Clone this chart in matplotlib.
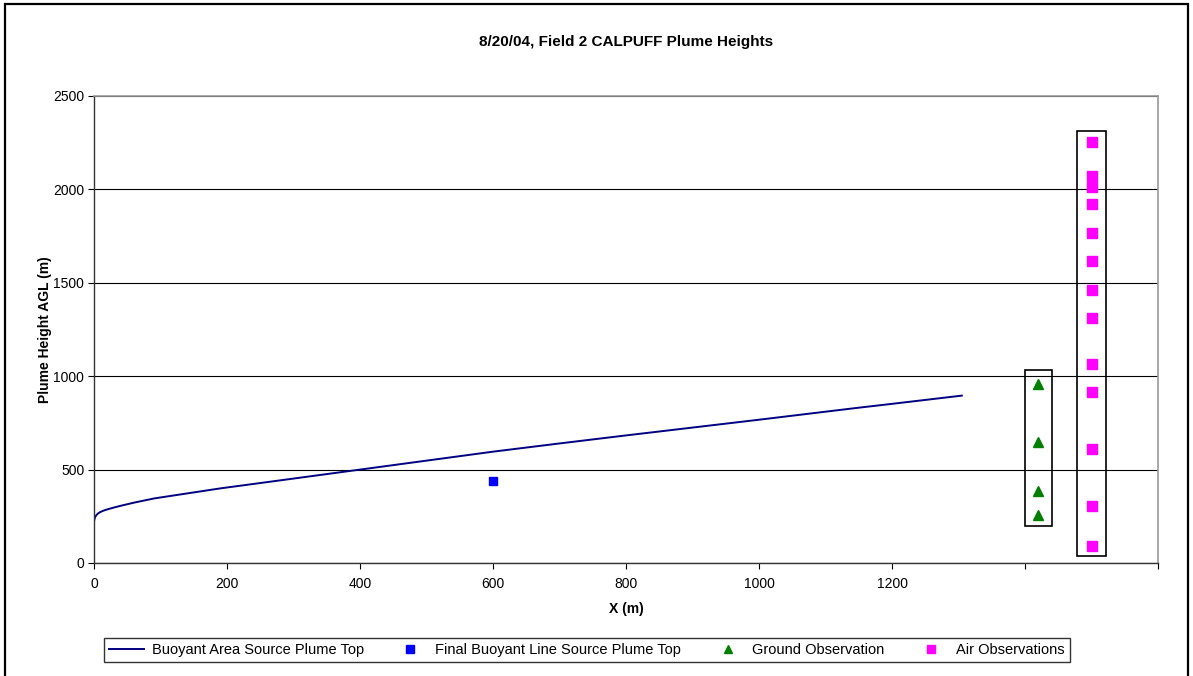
import matplotlib
matplotlib.use("Agg")
import matplotlib.pyplot as plt
from matplotlib.patches import Rectangle

plt.rcParams['font.family'] = ['Liberation Sans', 'DejaVu Sans']

# Buoyant area source plume top (CALPUFF)
area_x = [0, 0.5, 1, 2, 4, 6, 9, 14, 21, 30, 41, 60, 91, 141, 191, 231, 300,
          400, 500, 600, 700, 800, 900, 1000, 1100, 1149, 1200, 1305]
area_y = [221, 232, 239, 248, 258, 265, 272, 280, 288, 297, 307, 323, 346,
          373, 400, 419, 452, 500, 548, 596, 640, 683, 725, 767, 810, 831,
          852, 896]

# Final buoyant line source plume top
line_x = [600]
line_y = [440]

# Observations
ground_x = [1420, 1420, 1420, 1420]
ground_y = [957, 646, 387, 255]

air_x = [1500] * 13
air_y = [2256, 2073, 2012, 1920, 1768, 1615, 1463, 1310, 1067, 915, 610, 305, 91]

x_ticks = [0, 200, 400, 600, 800, 1000, 1200, 1400, 1600]
x_tick_labels = ['0', '200', '400', '600', '800', '1000', '1200', '', '']
y_ticks = [0, 500, 1000, 1500, 2000, 2500]

W, H = 1193, 676
fig = plt.figure(figsize=(W / 100, H / 100), dpi=100)
ax = fig.add_axes([94 / W, 1 - 563 / H, 1064 / W, 467 / H])

# outer chart border (bottom edge runs off the canvas)
fig.patches.append(Rectangle((4.5 / W, -0.02), (1188 - 4.5) / W,
                             1.02 - 3.5 / H,
                             transform=fig.transFigure, fill=False,
                             edgecolor='black', linewidth=1.6))

ax.set_xlim(0, 1600)
ax.set_ylim(0, 2500)
ax.set_yticks(y_ticks)
ax.set_xticks(x_ticks)
ax.set_xticklabels(x_tick_labels)
ax.tick_params(direction='out', length=4, width=0.8, labelsize=10,
               colors='black')
ax.tick_params(axis='y', pad=3)
ax.tick_params(axis='x', pad=6)
ax.yaxis.grid(True, color='black', linewidth=0.8)
ax.set_axisbelow(True)
for side in ('top', 'right'):
    ax.spines[side].set_color('#999999')
    ax.spines[side].set_linewidth(1.2)
for side in ('left', 'bottom'):
    ax.spines[side].set_color('#333333')
    ax.spines[side].set_linewidth(1.0)

ax.plot(area_x, area_y, color='#000080', linewidth=1.4,
        label='Buoyant Area Source Plume Top')
ax.plot(line_x, line_y, linestyle='none', marker='s', markersize=6.3,
        color='#0000FF', label='Final Buoyant Line Source Plume Top')
ax.plot(ground_x, ground_y, linestyle='none', marker='^', markersize=7,
        color='#008000', label='Ground Observation')
ax.plot(air_x, air_y, linestyle='none', marker='s', markersize=6.5,
        color='#FF00FF', label='Air Observations')

# frames around the observation columns
def frame(xs, ys, dx, lo, hi):
    x0 = min(xs) - dx
    y0 = min(ys) - lo
    ax.add_patch(Rectangle((x0, y0), 2 * dx, max(ys) + hi - y0,
                           fill=False, edgecolor='black', linewidth=1.2,
                           zorder=3))

frame(ground_x, ground_y, 20, 55, 78)
frame(air_x, air_y, 22, 52, 55)

ax.set_title('8/20/04, Field 2 CALPUFF Plume Heights', fontsize=11,
             fontweight='bold', pad=36)
ax.set_xlabel('X (m)', fontsize=10, fontweight='bold', labelpad=8)
ax.set_ylabel('Plume Height AGL (m)', fontsize=10, fontweight='bold',
              labelpad=1)

leg = fig.legend(loc='center', bbox_to_anchor=(587 / W, 1 - 650 / H), ncol=4,
                 frameon=True, fancybox=False, fontsize=10.5,
                 edgecolor='black', handlelength=2.4, columnspacing=2.0,
                 borderpad=0.35, handletextpad=0.5, markerscale=0.85)
leg.get_frame().set_linewidth(1.0)

fig.savefig('out.png', dpi=100)
